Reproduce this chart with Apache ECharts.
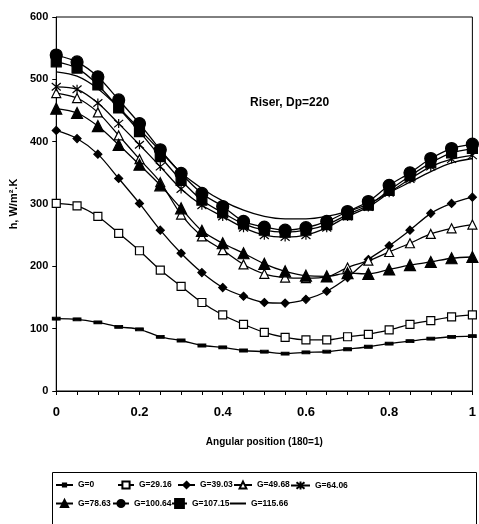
<!DOCTYPE html>
<html>
<head>
<meta charset="utf-8">
<script src="https://cdn.jsdelivr.net/npm/echarts@6/dist/echarts.min.js"></script>
<style>html,body{margin:0;padding:0;background:#fff;}#c{width:479px;height:524px;}</style>
</head>
<body>
<div id="c"></div>
<script>
var xs = [0,0.05,0.1,0.15,0.2,0.25,0.3,0.35,0.4,0.45,0.5,0.55,0.6,0.65,0.7,0.75,0.8,0.85,0.9,0.95,1];
var names = ['G=0','G=29.16','G=39.03','G=49.68','G=64.06','G=78.63','G=100.64','G=107.15','G=115.66'];
var g0      = [116,115,110,103,99,87,81,73,70,65,63,60,62,63,67,71,76,80,84,87,88];
var g2916   = [301,297,280,253,225,194,168,142,122,107,94,86,82,82,87,91,98,107,113,119,122];
var g3903   = [418,405,380,341,301,258,221,190,166,152,142,141,147,160,182,211,233,258,285,301,311];
var g4968   = [478,470,447,410,372,335,283,248,226,203,188,182,181,183,198,209,223,237,252,261,267];
var g6406   = [488,484,462,429,395,360,324,298,280,262,250,247,250,262,280,295,318,340,360,372,378];
var g7863   = [453,446,425,395,363,330,293,257,237,221,204,192,185,184,189,188,195,202,207,213,215];
var g10064  = [539,528,504,467,429,387,349,317,296,272,263,258,262,272,288,304,330,350,373,389,396];
var g10715  = [528,518,491,454,416,376,338,306,286,268,258,255,258,267,283,298,322,345,366,382,389];
var g11566  = [512,505,485,455,420,385,350,325,305,290,280,276,276,280,288,300,318,335,352,366,373];
var yTicks = [0,100,200,300,400,500,600];
var xTicks = [0,0.2,0.4,0.6,0.8,1];

function pts(arr){ return xs.map(function(x,i){ return [x, arr[i]]; }); }
var ast = 'path://M-1,-1L1,1M-1,1L1,-1M0,-1.2L0,1.2';
var specs = [
  {d:g0, symbol:'rect', size:[7,3], fill:'#000', lh:4},
  {d:g2916, symbol:'rect', size:8, fill:'#fff', lh:9},
  {d:g3903, symbol:'diamond', size:8, fill:'#000', lh:8},
  {d:g4968, symbol:'triangle', size:9, fill:'#fff', lh:8.5},
  {d:g6406, symbol:ast, size:9, fill:'none', lh:10},
  {d:g7863, symbol:'triangle', size:11, fill:'#000', lh:9},
  {d:g10064, symbol:'circle', size:12, fill:'#000', lh:9},
  {d:g10715, symbol:'rect', size:10, fill:'#000', lh:11},
  {d:g11566, symbol:'none', size:0, fill:'#000', lh:8}
];
var series = specs.map(function(s,i){
  var sz = s.size;
  return {
    name: names[i], type:'line', data: pts(s.d), smooth:0.3,
    symbol: s.symbol, symbolSize: function(){ return sz; }, showSymbol: s.symbol!=='none',
    lineStyle:{color:'#000', width:1.3},
    itemStyle:{color:s.fill, borderColor:'#000', borderWidth:1.2},
    z: 2 + i
  };
});

var iconLeft  = [55,117,177,233,290,55,112,171,229];
var iconWidth = [17,16,17,18,19,17,16,15,16];
var rowC = [485,485,485,485,485,503.5,503.5,503.5,503.5];
var legends = names.map(function(n,i){
  var item = {name:n};
  if (specs[i].symbol === 'none') item.itemStyle = {color:'transparent', borderColor:'transparent', borderWidth:0};
  return {data:[item],
    left:iconLeft[i], top:rowC[i]-6, itemWidth:iconWidth[i], itemHeight:specs[i].lh,
    textStyle:{fontFamily:'Liberation Sans, Arial', fontWeight:'bold', fontSize:8.5, lineHeight:12, color:'#000'},
    padding:0, selectedMode:false};
});

var chart = echarts.init(document.getElementById('c'), null, {renderer:'canvas'});
chart.setOption({
  animation:false,
  backgroundColor:'#fff',
  grid:{left:54, top:17, width:423, height:374, show:true, borderColor:'#000', borderWidth:1},
  title:{text:'Riser, Dp=220', left:250, top:97, padding:0, textStyle:{fontFamily:'Liberation Sans, Arial', fontWeight:'bold', fontSize:12, color:'#000'}},
  legend: legends,
  graphic:[{type:'rect', shape:{x:52.5, y:472.5, width:424, height:60}, style:{fill:'none', stroke:'#000', lineWidth:1}, silent:true}],
  xAxis:{type:'value', min:0, max:1, interval:0.2,
    name:'Angular position (180=1)', nameLocation:'middle', nameGap:46,
    nameTextStyle:{fontFamily:'Liberation Sans, Arial', fontWeight:'bold', fontSize:10, color:'#000'},
    axisLine:{onZero:false, lineStyle:{color:'#000', width:1}},
    axisTick:{show:true, length:4, inside:false, lineStyle:{color:'#000'}},
    minorTick:{show:true, splitNumber:4, length:4, lineStyle:{color:'#000'}},
    splitLine:{show:false},
    axisLabel:{margin:15, fontFamily:'Liberation Sans, Arial', fontWeight:'bold', fontSize:13, color:'#000',
      formatter:function(v){ return xTicks.indexOf(Math.round(v*10)/10)>=0 ? String(Math.round(v*10)/10) : ''; }}
  },
  yAxis:{type:'value', min:0, max:600, interval:100,
    name:'h, W/m\u00B2.K', nameLocation:'middle', nameGap:26, nameRotate:90,
    nameTextStyle:{fontFamily:'Liberation Sans, Arial', fontWeight:'bold', fontSize:11, color:'#000'},
    axisLine:{show:true, lineStyle:{color:'#000', width:1}},
    axisTick:{show:true, length:4, lineStyle:{color:'#000'}},
    splitLine:{show:false},
    axisLabel:{margin:8, fontFamily:'Liberation Sans, Arial', fontWeight:'bold', fontSize:11, color:'#000',
      formatter:function(v){ return yTicks.indexOf(v)>=0 ? String(v) : ''; }}
  },
  series: series
});
</script>
</body>
</html>
